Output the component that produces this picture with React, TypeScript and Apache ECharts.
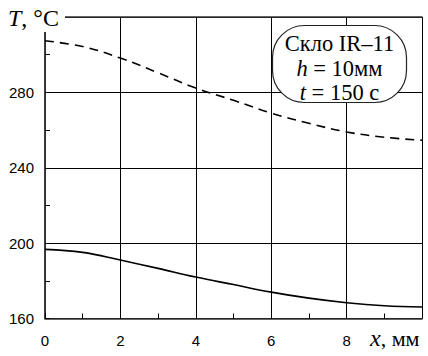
import React, { useEffect, useRef } from 'react';
import * as echarts from 'echarts';

const xValues = [0, 1, 2, 3, 4, 5, 6, 7, 8, 9, 10];
const surfaceT = [307.4, 304.3, 298.2, 290.4, 282.3, 275.8, 269.0, 263.6, 259.0, 256.2, 254.6];
const centerT = [196.7, 195.1, 191.0, 186.6, 182.0, 178.0, 174.0, 170.8, 168.4, 166.8, 166.1];
const xTickLabels = [0, 2, 4, 6, 8];
const yTickLabels = [160, 200, 240, 280];
const boxLines = ['Скло IR–11', '{i|h} = 10мм', '{i|t} = 150 с'];

const serif = '"Liberation Serif", "DejaVu Serif", serif';
const sans = '"Liberation Sans", Arial, sans-serif';

export default function App() {
  const ref = useRef<HTMLDivElement>(null);
  useEffect(() => {
    const chart = echarts.init(ref.current!, null, { renderer: 'svg' });
    const frame = { show: true, lineStyle: { color: '#333', width: 1.5 } };
    const grid = { show: true, lineStyle: { color: '#000', width: 1 } };
    chart.setOption({
      animation: false,
      grid: { left: 45, right: 6, top: 17, bottom: 37.5, containLabel: false },
      xAxis: [
        {
          type: 'value', min: 0, max: 10, interval: 2, position: 'bottom',
          axisLine: frame,
          axisTick: { show: true, inside: true, length: 5, lineStyle: { color: '#000' } },
          minorTick: { show: true, splitNumber: 2, length: 5, lineStyle: { color: '#000' } },
          splitLine: grid,
          axisLabel: {
            formatter: (v: number) => (xTickLabels.includes(v) ? String(v) : ''),
            fontSize: 15, fontFamily: sans, color: '#000', margin: 14,
          },
        },
        {
          type: 'value', min: 0, max: 10, position: 'top',
          axisLine: frame, axisTick: { show: false }, axisLabel: { show: false }, splitLine: { show: false },
        },
      ],
      yAxis: [
        {
          type: 'value', min: 160, max: 320, interval: 40, position: 'left',
          axisLine: frame,
          axisTick: { show: true, inside: true, length: 5, lineStyle: { color: '#000' } },
          minorTick: { show: true, splitNumber: 2, length: 5, lineStyle: { color: '#000' } },
          splitLine: grid,
          axisLabel: {
            formatter: (v: number) => (yTickLabels.includes(v) ? String(v) : ''),
            fontSize: 15, fontFamily: sans, color: '#000', margin: 11,
          },
        },
        {
          type: 'value', min: 160, max: 320, position: 'right',
          axisLine: frame, axisTick: { show: false }, axisLabel: { show: false }, splitLine: { show: false },
        },
      ],
      series: [
        {
          type: 'line', xAxisIndex: 0, yAxisIndex: 0, showSymbol: false, symbol: 'none', smooth: 0.4,
          data: xValues.map((x, i) => [x, surfaceT[i]]),
          lineStyle: { color: '#000', width: 1.6, type: [9, 6] },
          z: 5,
        },
        {
          type: 'line', xAxisIndex: 0, yAxisIndex: 0, showSymbol: false, symbol: 'none', smooth: 0.4,
          data: xValues.map((x, i) => [x, centerT[i]]),
          lineStyle: { color: '#000', width: 1.6 },
          z: 5,
        },
      ],
      graphic: [
        { type: 'rect', z: 100, shape: { x: 0, y: 0, width: 65, height: 32 }, style: { fill: '#fff' } },
        {
          type: 'text', z: 101, x: 8, y: 18,
          style: {
            text: '{i|T}, °C', fontFamily: serif, fontSize: 24, fill: '#000', verticalAlign: 'middle',
            rich: { i: { fontStyle: 'italic', fontFamily: serif, fontSize: 24 } },
          },
        },
        {
          type: 'rect', z: 100,
          shape: { x: 272.5, y: 25.5, width: 134, height: 77, r: 32 },
          style: { fill: '#fff', stroke: '#222', lineWidth: 1.2 },
        },
        ...boxLines.map((t, i) => ({
          type: 'text', z: 101, x: 339.5, y: 43.5 + i * 24.5,
          style: {
            text: t, fontFamily: serif, fontSize: 22.5, fill: '#000', align: 'center', verticalAlign: 'middle',
            rich: { i: { fontStyle: 'italic', fontFamily: serif, fontSize: 22.5 } },
          },
        })),
        {
          type: 'text', z: 101, x: 370, y: 338,
          style: {
            text: '{i|x}, {m|мм}', fontFamily: serif, fontSize: 22, fill: '#000', verticalAlign: 'middle',
            rich: {
              i: { fontStyle: 'italic', fontFamily: serif, fontSize: 24 },
              m: { fontFamily: serif, fontSize: 22 },
            },
          },
        },
      ],
    });
    return () => chart.dispose();
  }, []);
  return <div ref={ref} style={{ position: 'fixed', left: 0, top: 0, width: 428, height: 356, background: '#fff' }} />;
}
